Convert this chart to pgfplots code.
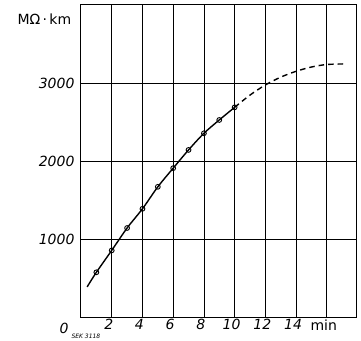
\documentclass[border=0pt]{standalone}
\usepackage{pgfplots}
\pgfplotsset{compat=1.18}
\usepackage{fontspec}
\setmainfont{DejaVu Sans}
\begin{document}
\begin{tikzpicture}
\useasboundingbox (-81pt,-23pt) rectangle (280pt,317pt);
\begin{axis}[
  at={(0pt,0pt)}, anchor=south west,
  scale only axis, width=275pt, height=312pt,
  xmin=0, xmax=17.9, ymin=0, ymax=4000,
  xtick={2,4,6,8,10,12,14,16},
  xticklabels={2,4,6,8,10,12,14,{\upshape min}},
  ytick={1000,2000,3000},
  grid=major,
  major grid style={black, line width=0.75pt},
  axis line style={black, line width=1pt},
  major tick length=0pt,
  tick label style={font=\fontsize{14}{16}\selectfont\itshape},
  /pgf/number format/assume math mode=true,
  /pgf/number format/1000 sep={},
  scaled y ticks=false,
  xticklabel style={yshift=1pt, xshift=-3pt},
  yticklabel style={xshift=-3pt},
  clip=false,
]
\addplot[black, line width=1.4pt, smooth, no markers] coordinates {
  (0.4,386) (1,573) (2,854) (3,1141) (4,1387) (5,1669) (6,1908) (7,2142) (8,2355) (9,2526) (10,2688)
};
\addplot[black, line width=1.4pt, smooth, dash pattern=on 5.5pt off 4pt, no markers] coordinates {
  (10,2688) (11,2845) (12,2975) (13,3075) (14,3150) (15,3205) (16,3237) (17.3,3245)
};
\addplot[only marks, mark=o, mark size=2.4pt, mark options={fill=white, line width=0.9pt, black}] coordinates {
  (1,573) (2,854) (3,1141) (4,1387) (5,1669) (6,1908) (7,2142) (8,2355) (9,2526) (10,2688)
};
\end{axis}
\node[anchor=base west, font=\fontsize{14}{16}\selectfont] at (-67pt,292pt) {MΩ\,·\,km};
\node[anchor=base, font=\fontsize{14}{16}\selectfont\itshape] at (-17pt,-16pt) {0};
\node[anchor=base west, font=\fontsize{6}{7}\selectfont\itshape] at (-13pt,-21pt) {SEK 3118};
\end{tikzpicture}
\end{document}
